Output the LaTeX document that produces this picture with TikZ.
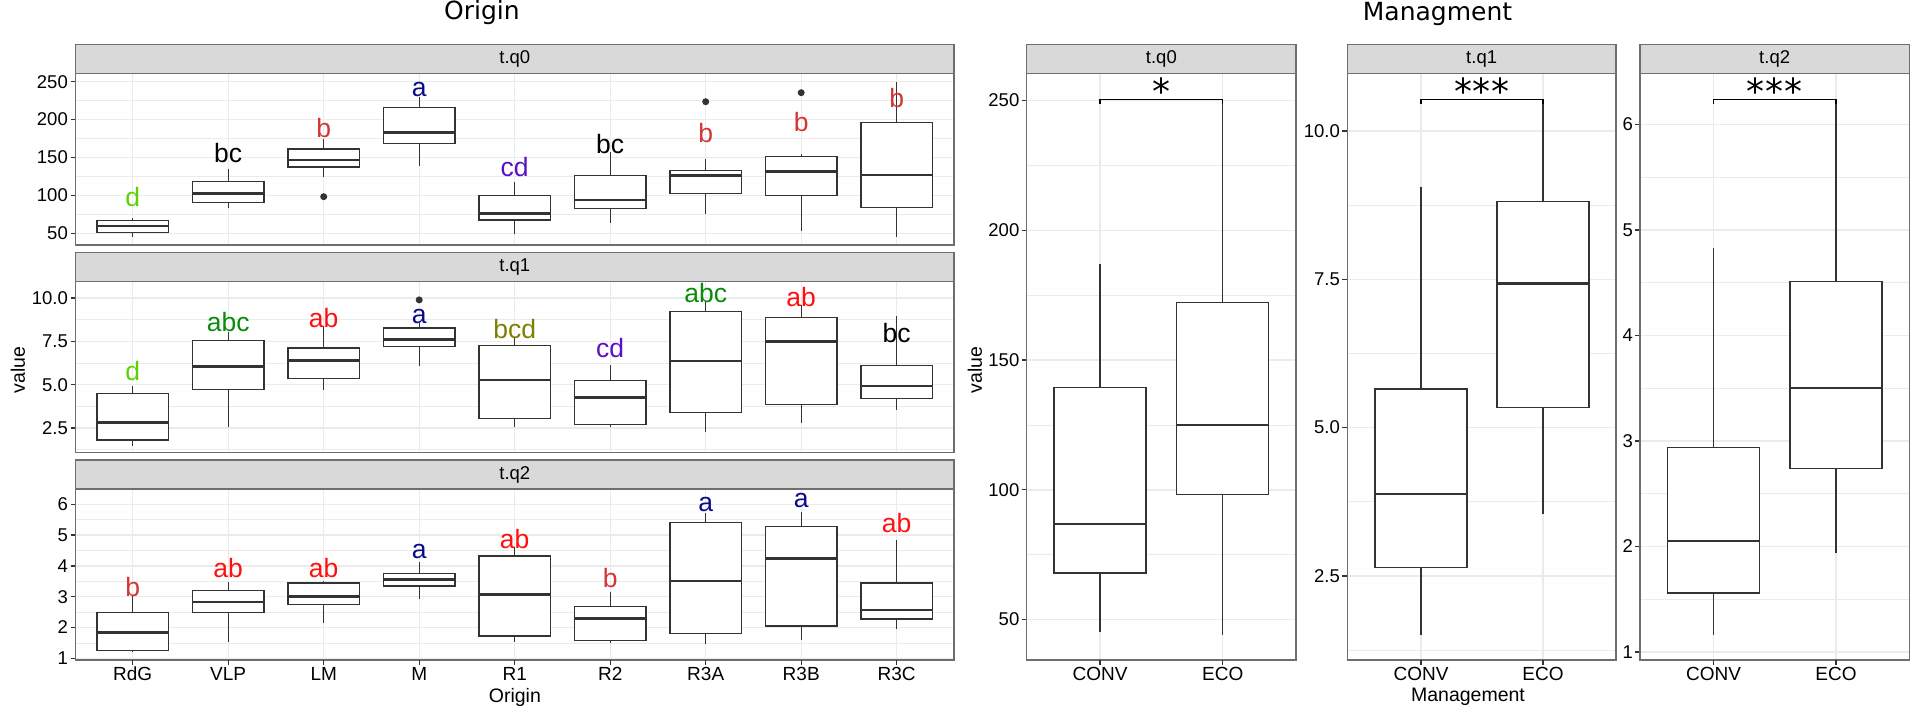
\documentclass[tikz,border=0pt]{standalone}
\usepackage{fontspec}
\setmainfont{Liberation Sans}
\newfontfamily\djv{DejaVu Sans}
\usetikzlibrary{positioning}
\definecolor{gridgray}{HTML}{EBEBEB}
\definecolor{stripgray}{HTML}{D9D9D9}
\definecolor{framegray}{HTML}{6E6E6E}
\definecolor{boxgray}{HTML}{333333}
\definecolor{ltgreen}{HTML}{5AD400}
\definecolor{dkgreen}{HTML}{0B8A0B}
\definecolor{fbred}{HTML}{D23636}
\definecolor{brred}{HTML}{FF1010}
\definecolor{navyb}{HTML}{0A0A8C}
\definecolor{violetb}{HTML}{5A10C8}
\definecolor{oliveb}{HTML}{808000}
\tikzset{
    gmajor/.style={draw=gridgray, line width=1.4pt},
    gminor/.style={draw=gridgray, line width=0.7pt},
    panelframe/.style={draw=framegray, line width=1.3pt},
    stripbox/.style={fill=stripgray, draw=framegray, line width=1.3pt},
    whisk/.style={draw=boxgray, line width=1.4pt},
    boxsty/.style={draw=boxgray, fill=white, line width=1.4pt},
    medsty/.style={draw=boxgray, line width=2.8pt},
    outl/.style={fill=boxgray},
    tickmark/.style={draw=boxgray, line width=1.3pt},
    ylab/.style={anchor=east, inner sep=0pt, font=\fontsize{18.5}{20}\selectfont},
    xlab/.style={anchor=base, inner sep=0pt, font=\fontsize{19}{21}\selectfont},
    striptext/.style={inner sep=0pt, font=\fontsize{18.5}{20}\selectfont},
    axtitle/.style={inner sep=0pt, font=\fontsize{19.5}{21}\selectfont},
    figtitle/.style={anchor=base, inner sep=0pt, font=\djv\fontsize{25}{28}\selectfont},
    grp/.style={inner sep=0pt, font=\fontsize{26.5}{28}\selectfont},
    sig/.style={draw=black, line width=1.5pt},
    stars/.style={anchor=base, inner sep=0pt, font=\djv\fontsize{36}{38}\selectfont},
}
% x, half width, lower whisker, q1, median, q3, upper whisker
\newcommand{\bxplot}[7]{%
    \draw[whisk] (#1,#3) -- (#1,#4) (#1,#6) -- (#1,#7);
    \draw[boxsty] (#1-#2,#4) rectangle (#1+#2,#6);
    \draw[medsty] (#1-#2,#5) -- (#1+#2,#5);
}

\begin{document}
\begin{tikzpicture}[x=1pt,y=-1pt]
    \useasboundingbox (0,0) rectangle (1920,715);

    \node[figtitle] (ttlorig) at (482,19.5)   {Origin};
    \node[figtitle] (ttlmgmt) at (1437.5,20.5) {Managment};

    %% ---------- Origin ----------
    \foreach \ytop/\ybot in {73.3/245, 281.7/452.5, 489/660}{
        \foreach \xc in {132.7,228.2,...,897}{
            \draw[gmajor] (\xc,\ytop) -- (\xc,\ybot);
        }
    }

    % t.q0
    \begin{scope}[shift={(0,271.2)}, y=0.758pt]
        \foreach \v in {75,125,175,225} \draw[gminor] (75.7,\v) -- (954,\v);
        \foreach \v [count=\i] in {50,100,...,250}{
            \draw[gmajor] (75.7,\v) -- (954,\v);
            \draw[tickmark] (70.7,\v) -- (75.7,\v);
            \node[ylab] (a0y\i) at (68,\v) {\v};
        }
        \bxplot{132.7}{35.8}{45.5}{51.3}{59.6}{66.6}{69.8}
        \bxplot{228.2}{35.8}{83}{90.9}{102.8}{118}{134.4}
        \bxplot{323.7}{35.8}{123.9}{137.5}{146.7}{161.2}{174}
        \bxplot{419.2}{35.8}{139.2}{168.7}{183.2}{215.7}{230.2}
        \bxplot{514.7}{35.8}{49}{67.5}{75.9}{99.6}{118}
        \bxplot{610.2}{35.8}{64}{83}{93.9}{126}{157.7}
        \bxplot{705.7}{35.8}{75.9}{102.8}{126}{133.1}{147.6}
        \bxplot{801.2}{35.8}{52.6}{99.6}{131.3}{151}{154.6}
        \bxplot{896.7}{35.8}{44.7}{84.3}{126.9}{195.9}{250}
        \fill[outl] (323.7,98.3)  circle[radius=3.5pt];
        \fill[outl] (705.7,223.6) circle[radius=3.5pt];
        \fill[outl] (801.2,235.5) circle[radius=3.5pt];
        \node[grp, text=ltgreen] (q0RdG) at (132.7,97.5)  {d};
        \node[grp, text=black]   (q0VLP) at (228.2,155.5) {bc};
        \node[grp, text=fbred]   (q0LM)  at (323.7,188.5) {b};
        \node[grp, text=navyb]   (q0M)   at (419.2,240)   {a};
        \node[grp, text=violetb] (q0R1)  at (514.7,137.9) {cd};
        \node[grp, text=black]   (q0R2)  at (610.2,167.4) {bc};
        \node[grp, text=fbred]   (q0R3A) at (705.7,181.9) {b};
        \node[grp, text=fbred]   (q0R3B) at (801.2,197.2) {b};
        \node[grp, text=fbred]   (q0R3C) at (896.7,228)   {b};
    \end{scope}

    % t.q1
    \begin{scope}[shift={(0,471.3)}, y=17.33pt]
        \foreach \v in {1.25,3.75,6.25,8.75} \draw[gminor] (75.7,\v) -- (954,\v);
        \foreach \v/\t [count=\i] in {2.5/2.5, 5/5.0, 7.5/7.5, 10/10.0}{
            \draw[gmajor] (75.7,\v) -- (954,\v);
            \draw[tickmark] (70.7,\v) -- (75.7,\v);
            \node[ylab] (a1y\i) at (68,\v) {\t};
        }
        \bxplot{132.7}{35.8}{1.48}{1.81}{2.81}{4.48}{4.94}
        \bxplot{228.2}{35.8}{2.58}{4.71}{6.04}{7.56}{8.06}
        \bxplot{323.7}{35.8}{4.71}{5.37}{6.41}{7.12}{8.39}
        \bxplot{419.2}{35.8}{6.1}{7.21}{7.6}{8.27}{8.58}
        \bxplot{514.7}{35.8}{2.54}{3.06}{5.27}{7.27}{7.77}
        \bxplot{610.2}{35.8}{2.54}{2.69}{4.25}{5.25}{6.14}
        \bxplot{705.7}{35.8}{2.29}{3.38}{6.37}{9.21}{9.79}
        \bxplot{801.2}{35.8}{2.77}{3.84}{7.48}{8.89}{9.6}
        \bxplot{896.7}{35.8}{3.54}{4.21}{4.92}{6.1}{8.96}
        \fill[outl] (419.2,9.89) circle[radius=3.5pt];
        \node[grp, text=ltgreen] (q1RdG) at (132.7,5.81)  {d};
        \node[grp, text=dkgreen] (q1VLP) at (228.2,8.63)  {abc};
        \node[grp, text=brred]   (q1LM)  at (323.7,8.86)  {ab};
        \node[grp, text=navyb]   (q1M)   at (419.2,8.96)  {a};
        \node[grp, text=oliveb]  (q1R1)  at (514.7,8.2)   {bcd};
        \node[grp, text=violetb] (q1R2)  at (610.2,7.13)  {cd};
        \node[grp, text=dkgreen] (q1R3A) at (705.7,10.27) {abc};
        \node[grp, text=brred]   (q1R3B) at (801.2,10.04) {ab};
        \node[grp, text=black]   (q1R3C) at (896.7,8.0)   {bc};
    \end{scope}

    % t.q2
    \begin{scope}[shift={(0,689.1)}, y=30.8pt]
        \foreach \v in {1.5,2.5,...,5.5} \draw[gminor] (75.7,\v) -- (954,\v);
        \foreach \v in {1,...,6}{
            \draw[gmajor] (75.7,\v) -- (954,\v);
            \draw[tickmark] (70.7,\v) -- (75.7,\v);
            \node[ylab] (a2y\v) at (68,\v) {\v};
        }
        \bxplot{132.7}{35.8}{1.19}{1.26}{1.85}{2.49}{3.03}
        \bxplot{228.2}{35.8}{1.54}{2.49}{2.83}{3.21}{3.47}
        \bxplot{323.7}{35.8}{2.16}{2.75}{3.0}{3.44}{3.52}
        \bxplot{419.2}{35.8}{2.93}{3.35}{3.57}{3.75}{4.14}
        \bxplot{514.7}{35.8}{1.54}{1.73}{3.08}{4.32}{4.6}
        \bxplot{610.2}{35.8}{1.51}{1.57}{2.28}{2.68}{3.16}
        \bxplot{705.7}{35.8}{1.45}{1.81}{3.51}{5.4}{5.71}
        \bxplot{801.2}{35.8}{1.59}{2.05}{4.25}{5.27}{5.76}
        \bxplot{896.7}{35.8}{1.95}{2.27}{2.57}{3.44}{4.84}
        \node[grp, text=fbred] (q2RdG) at (132.7,3.32) {b};
        \node[grp, text=brred] (q2VLP) at (228.2,3.92) {ab};
        \node[grp, text=brred] (q2LM)  at (323.7,3.92) {ab};
        \node[grp, text=navyb] (q2M)   at (419.2,4.48) {a};
        \node[grp, text=brred] (q2R1)  at (514.7,4.86) {ab};
        \node[grp, text=fbred] (q2R2)  at (610.2,3.6)  {b};
        \node[grp, text=navyb] (q2R3A) at (705.7,5.98) {a};
        \node[grp, text=navyb] (q2R3B) at (801.2,6.11) {a};
        \node[grp, text=brred] (q2R3C) at (896.7,5.38) {ab};
    \end{scope}

    \foreach \ytop/\ybot/\lbl [count=\i] in {73.3/245/t.q0, 281.7/452.5/t.q1, 489/660/t.q2}{
        \draw[panelframe] (75.7,\ytop) rectangle (954,\ybot);
        \draw[stripbox] (75.7,\ytop-29) rectangle (954,\ytop);
        \node[striptext] (ostrip\i) at (514.85,\ytop-14.5) {\lbl};
    }
    \foreach \xc/\lbl [count=\i] in {132.7/RdG, 228.2/VLP, 323.7/LM, 419.2/M, 514.7/R1,
                                     610.2/R2, 705.7/R3A, 801.2/R3B, 896.7/R3C}{
        \draw[tickmark] (\xc,660) -- (\xc,665);
        \node[xlab] (ox\i) at (\xc,680.8) {\lbl};
    }
    \node[axtitle, rotate=90] (oval)  at (18,370)     {value};
    \node[axtitle]            (oaxis) at (514.85,697) {Origin};

    %% ---------- Managment ----------
    \foreach \xl/\xr/\xa/\xb in {1026.7/1296/1100/1222.7, 1347.3/1616/1421/1543, 1640/1909.3/1713.5/1836}{
        \draw[gmajor] (\xa,73.3) -- (\xa,660);
        \draw[gmajor] (\xb,73.3) -- (\xb,660);
    }

    % t.q0
    \begin{scope}[shift={(0,749.4)}, y=2.596pt]
        \tikzset{medsty/.append style={line width=2.2pt}}
        \foreach \v in {75,125,175,225} \draw[gminor] (1026.7,\v) -- (1296,\v);
        \foreach \v [count=\i] in {50,100,...,250}{
            \draw[gmajor] (1026.7,\v) -- (1296,\v);
            \draw[tickmark] (1021.7,\v) -- (1026.7,\v);
            \node[ylab] (b0y\i) at (1019.5,\v) {\v};
        }
        \bxplot{1100}{46}{45.1}{68}{86.9}{139.3}{187}
        \bxplot{1222.7}{46}{44.2}{98.3}{125.1}{172.1}{248.6}
    \end{scope}

    % t.q1
    \begin{scope}[shift={(0,724.1)}, y=59.3pt]
        \tikzset{medsty/.append style={line width=2.2pt}}
        \foreach \v in {1.25,3.75,6.25,8.75} \draw[gminor] (1347.3,\v) -- (1616,\v);
        \foreach \v/\t [count=\i] in {2.5/2.5, 5/5.0, 7.5/7.5, 10/10.0}{
            \draw[gmajor] (1347.3,\v) -- (1616,\v);
            \draw[tickmark] (1342.3,\v) -- (1347.3,\v);
            \node[ylab] (b1y\i) at (1340,\v) {\t};
        }
        \bxplot{1421}{46}{1.51}{2.64}{3.88}{5.65}{9.05}
        \bxplot{1543}{46}{3.55}{5.34}{7.43}{8.81}{10.46}
    \end{scope}

    % t.q2
    \begin{scope}[shift={(0,757.5)}, y=105.5pt]
        \tikzset{medsty/.append style={line width=2.2pt}}
        \foreach \v in {1.5,2.5,...,5.5} \draw[gminor] (1640,\v) -- (1909.3,\v);
        \foreach \v in {1,...,6}{
            \draw[gmajor] (1640,\v) -- (1909.3,\v);
            \draw[tickmark] (1635,\v) -- (1640,\v);
            \node[ylab] (b2y\v) at (1633,\v) {\v};
        }
        \bxplot{1713.5}{46}{1.16}{1.56}{2.05}{2.94}{4.83}
        \bxplot{1836}{46}{1.94}{2.74}{3.50}{4.51}{6.22}
    \end{scope}

    \draw[sig] (1100,104.3) -- (1100,99.3) -- (1222.7,99.3) -- (1222.7,104.3);
    \draw[sig] (1421,104.3) -- (1421,99.3) -- (1543,99.3)   -- (1543,104.3);
    \draw[sig] (1713.5,104.3) -- (1713.5,99.3) -- (1836,99.3) -- (1836,104.3);
    \node[stars] (sig0) at (1161.3,104.7) {*};
    \node[stars] (sig1) at (1482,104.7)   {*\hspace{1pt}*\hspace{1pt}*};
    \node[stars] (sig2) at (1774.7,104.7) {*\hspace{1pt}*\hspace{1pt}*};

    \foreach \xl/\xr/\xa/\xb/\lbl [count=\i] in {1026.7/1296/1100/1222.7/t.q0,
                                                 1347.3/1616/1421/1543/t.q1,
                                                 1640/1909.3/1713.5/1836/t.q2}{
        \draw[panelframe] (\xl,73.3) rectangle (\xr,660);
        \draw[stripbox] (\xl,44.3) rectangle (\xr,73.3);
        \node[striptext] (mstrip\i) at ({(\xl+\xr)/2},58.8) {\lbl};
        \draw[tickmark] (\xa,660) -- (\xa,665);
        \draw[tickmark] (\xb,660) -- (\xb,665);
        \node[xlab] (mconv\i) at (\xa,680.8) {CONV};
        \node[xlab] (meco\i)  at (\xb,680.8) {ECO};
    }
    \node[axtitle, rotate=90] (mval)  at (975,370)  {value};
    \node[axtitle]            (maxis) at (1468,697) {Management};
\end{tikzpicture}
\end{document}
